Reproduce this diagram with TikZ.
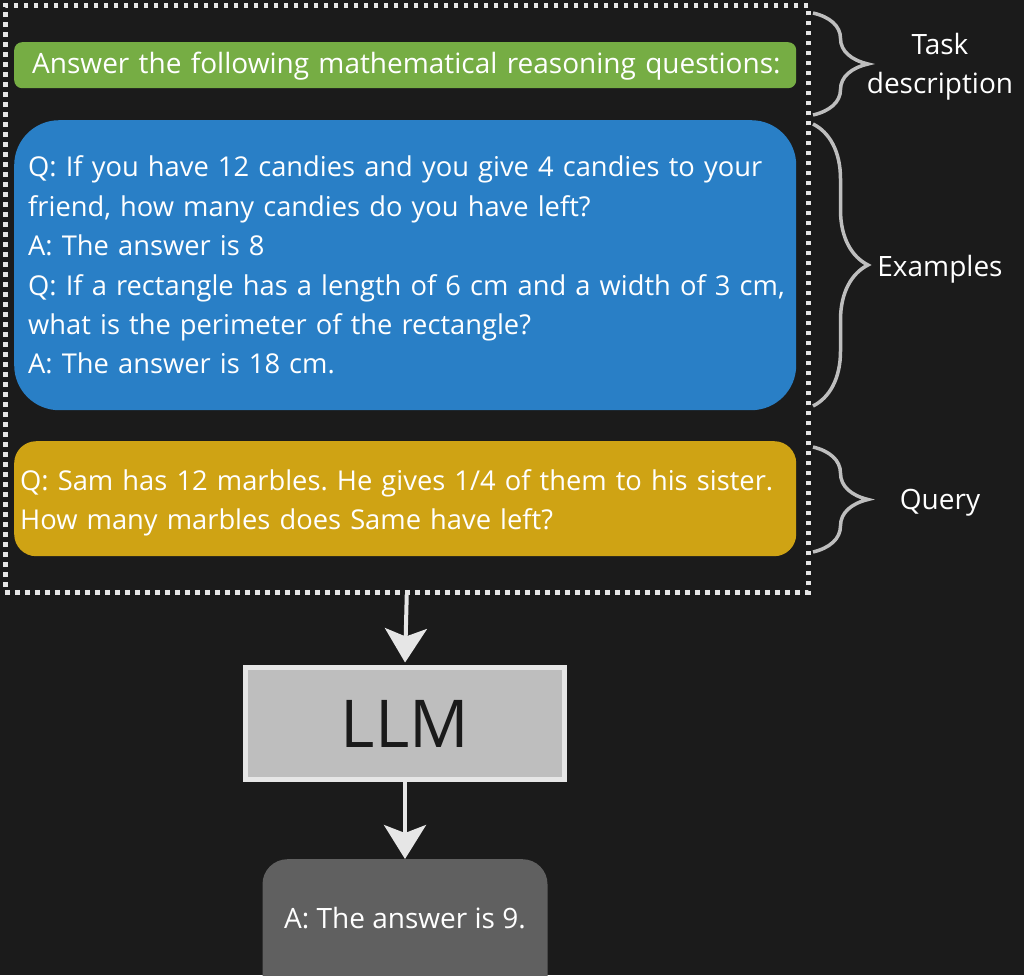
\documentclass[tikz,border=0pt]{standalone}
\usepackage{fontspec}
\setmainfont{Open Sans}
\frenchspacing
\usetikzlibrary{arrows.meta,decorations.pathreplacing}
\definecolor{bgC}{RGB}{27,27,27}
\definecolor{greenC}{RGB}{118,173,68}
\definecolor{blueC}{RGB}{41,127,198}
\definecolor{yellowC}{RGB}{207,163,20}
\definecolor{ansC}{RGB}{96,96,96}
\definecolor{llmC}{RGB}{190,190,190}
\definecolor{lineC}{RGB}{230,230,230}
\definecolor{braceC}{RGB}{190,190,190}
\definecolor{llmT}{RGB}{26,26,26}
\tikzset{
  txt/.style={font=\fontsize{28}{39.4}\selectfont, text=white},
  promptbox/.style={txt, anchor=north west, minimum width=782, align=left, inner ysep=0, text width=776, inner xsep=3},
  bracestyle/.style={draw=braceC, line width=3.5, decorate, decoration={brace, amplitude=55pt}},
  lbl/.style={txt, align=center},
  arr/.style={draw=lineC, line width=4, -{Stealth[length=34pt,width=42pt,inset=8pt]}},
}
\begin{document}
\begin{tikzpicture}[x=1pt,y=-1pt]
\useasboundingbox (0,0) rectangle (1024,975);
\fill[bgC] (0,0) rectangle (1024,975);

\node[promptbox, fill=greenC, rounded corners=8, minimum height=46] (task) at (14,42)
  {\strut\hspace*{15pt}Answer the following mathematical reasoning questions:};

\node[promptbox, fill=blueC, rounded corners=45, minimum height=290,
      font=\fontsize{27.3}{39.4}\selectfont] (ex) at (14,120)
  {\hspace*{11pt}Q: If you have 12 candies and you give 4 candies to your\\
   \hspace*{11pt}friend, how many candies do you have left?\\
   \hspace*{11pt}A: The answer is 8\\
   \hspace*{11pt}Q: If a rectangle has a length of 6 cm and a width of 3 cm,\\
   \hspace*{11pt}what is the perimeter of the rectangle?\\
   \hspace*{11pt}A: The answer is 18 cm.};

\node[promptbox, fill=yellowC, rounded corners=22, minimum height=115,
      font=\fontsize{27.3}{39.4}\selectfont] (query) at (14,441)
  {\raisebox{-4pt}[\height][\depth]{\parbox{770pt}{\raggedright
   \hspace*{3pt}Q: Sam has 12 marbles. He gives 1/4 of them to his sister.\\
   \hspace*{3pt}How many marbles does Same have left?}}};

\node[draw=lineC, line width=4.5, dash pattern=on 4.5pt off 5.5pt, anchor=north west, minimum width=803, minimum height=587, inner sep=0] (frame) at (3,3) {};

\coordinate (b1a) at (813,13);
\coordinate (b1b) at (813,115);
\coordinate (b2a) at (813,124);
\coordinate (b2b) at (813,406);
\coordinate (b3a) at (813,447);
\coordinate (b3b) at (813,552);
\draw[bracestyle] (b1a) -- (b1b);
\draw[bracestyle] (b2a) -- (b2b);
\draw[bracestyle] (b3a) -- (b3b);

\node[lbl] (tasklbl) at (940,67) {Task\\description};
\node[lbl] (exlbl) at (940,269) {Examples};
\node[lbl] (qlbl) at (940,503) {Query};

\node[draw=lineC, line width=5, fill=llmC, minimum width=319, minimum height=112, inner sep=0,
      font=\fontsize{66}{66}\selectfont, text=llmT] (llm) at (405,723.5) {LLM};

\node[fill=ansC, rounded corners=25, minimum width=285, minimum height=160, anchor=north, inner sep=0] (ans) at (405,859) {};
\node[txt, inner sep=0] (anstext) at (405,918) {A: The answer is 9.};

\draw[arr, shorten >=2.5pt] (frame.south) -- (llm.north);
\draw[arr] (llm.south) -- (ans.north);
\end{tikzpicture}
\end{document}
